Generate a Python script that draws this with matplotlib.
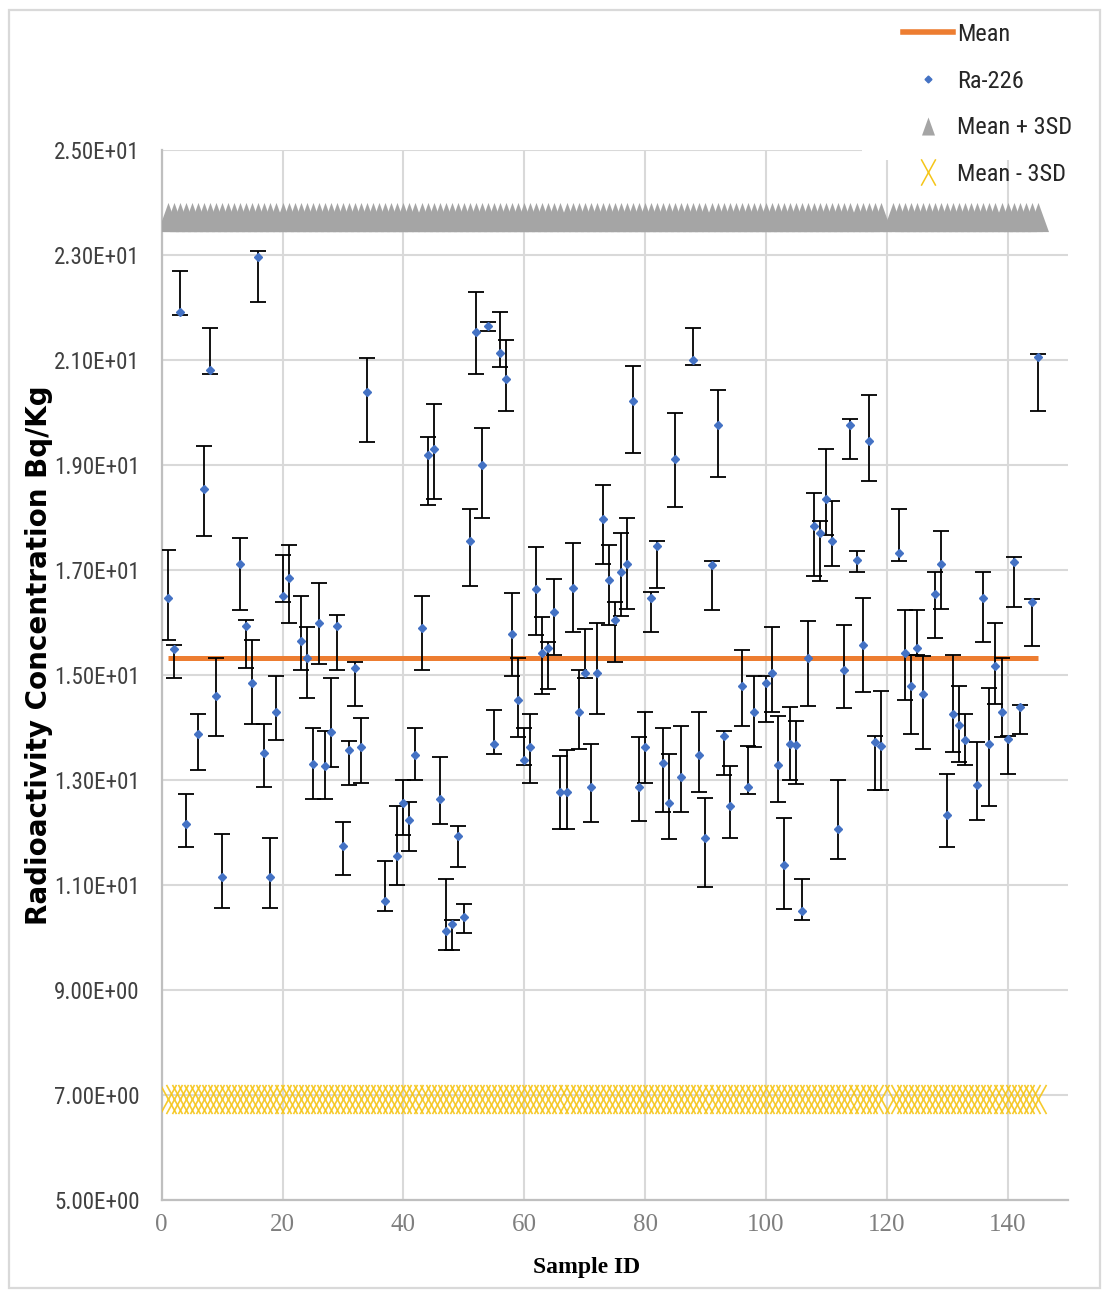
import numpy as np
import matplotlib
matplotlib.use("Agg")
import matplotlib.pyplot as plt
import matplotlib.font_manager as fm
from matplotlib.font_manager import FontProperties
from matplotlib.lines import Line2D
from matplotlib.path import Path
from matplotlib.markers import MarkerStyle
from matplotlib.patches import Rectangle

# ---------------- data ----------------
sample_id = [1, 2, 3, 4, 6, 7, 8, 9, 10, 13, 14, 15, 16, 17, 18, 19, 20, 21, 23, 24,
             25, 26, 27, 28, 29, 30, 31, 32, 33, 34, 37, 39, 40, 41, 42, 43, 44, 45, 46, 47,
             48, 49, 50, 51, 52, 53, 54, 55, 56, 57, 58, 59, 60, 61, 62, 63, 64, 65, 66, 67,
             68, 69, 70, 71, 72, 73, 74, 75, 76, 77, 78, 79, 80, 81, 82, 83, 84, 85, 86, 88,
             89, 90, 91, 92, 93, 94, 96, 97, 98, 100, 101, 102, 103, 104, 105, 106, 107, 108, 109, 110,
             111, 112, 113, 114, 115, 116, 117, 118, 119, 122, 123, 124, 125, 126, 128, 129, 130, 131, 132, 133,
             135, 136, 137, 138, 139, 140, 141, 142, 144, 145]
ra226 = [16.47, 15.49, 21.92, 12.17, 13.88, 18.55, 20.81, 14.60, 11.15, 17.11, 15.94, 14.84, 22.96, 13.51, 11.15, 14.30, 16.50, 16.85, 15.64, 15.32,
         13.31, 16.00, 13.27, 13.92, 15.94, 11.74, 13.58, 15.14, 13.62, 20.40, 10.70, 11.56, 12.57, 12.24, 13.47, 15.89, 19.20, 19.31, 12.63, 10.13,
         10.26, 11.94, 10.39, 17.56, 21.54, 19.00, 21.64, 13.68, 21.14, 20.63, 15.79, 14.53, 13.38, 13.62, 16.63, 15.41, 15.52, 16.20, 12.77, 12.77,
         16.66, 14.30, 15.03, 12.87, 15.03, 17.98, 16.81, 16.05, 16.97, 17.11, 20.22, 12.86, 13.62, 16.47, 17.45, 13.32, 12.56, 19.11, 13.05, 21.00,
         13.47, 11.90, 17.09, 19.77, 13.83, 12.51, 14.80, 12.86, 14.30, 14.84, 15.03, 13.28, 11.38, 13.69, 13.66, 10.50, 15.32, 17.83, 17.71, 18.36,
         17.56, 12.06, 15.09, 19.77, 17.20, 15.58, 19.45, 13.73, 13.65, 17.32, 15.41, 14.79, 15.52, 14.64, 16.54, 17.11, 12.33, 14.26, 14.05, 13.77,
         12.90, 16.47, 13.69, 15.17, 14.30, 13.79, 17.16, 14.39, 16.39, 21.05]
ra226_low = [15.66, 14.94, 21.85, 11.72, 13.20, 17.64, 20.74, 13.83, 10.57, 16.23, 15.13, 14.07, 22.11, 12.86, 10.57, 13.77, 16.39, 16.00, 15.09, 14.56,
             12.64, 15.21, 12.63, 13.24, 15.09, 11.20, 12.90, 14.41, 12.94, 19.43, 10.51, 11.00, 11.96, 11.64, 13.00, 15.09, 18.24, 18.36, 12.17, 9.76,
             9.76, 11.34, 10.09, 16.69, 20.73, 18.00, 21.55, 13.49, 20.87, 20.02, 14.98, 13.82, 13.28, 12.94, 15.77, 14.64, 14.73, 15.38, 12.06, 12.06,
             15.81, 13.60, 14.94, 12.20, 14.26, 17.11, 15.96, 15.24, 16.13, 16.26, 19.23, 12.22, 12.94, 15.82, 16.66, 12.40, 11.88, 18.20, 12.40, 20.90,
             12.77, 10.96, 16.23, 18.77, 13.09, 11.90, 14.03, 12.74, 13.62, 14.11, 14.30, 12.58, 10.54, 13.00, 12.92, 10.34, 14.41, 16.88, 16.80, 17.66,
             17.07, 11.49, 14.37, 19.11, 16.97, 14.67, 18.70, 12.81, 12.81, 17.17, 14.53, 13.88, 15.38, 13.60, 15.71, 16.26, 11.72, 13.54, 13.35, 13.28,
             12.24, 15.62, 12.51, 14.45, 13.82, 13.11, 16.30, 13.88, 15.55, 20.03]
ra226_high = [17.38, 15.58, 22.69, 12.74, 14.26, 19.37, 21.61, 15.32, 11.98, 17.60, 16.04, 15.66, 23.07, 14.07, 11.90, 14.98, 17.28, 17.47, 16.50, 15.92,
              13.99, 16.75, 13.94, 14.94, 16.15, 12.20, 13.75, 15.24, 14.19, 21.04, 11.45, 12.51, 13.00, 12.59, 13.99, 16.50, 19.54, 20.17, 13.43, 11.11,
              10.34, 12.13, 10.63, 18.16, 22.30, 19.71, 21.72, 14.33, 21.92, 21.38, 16.56, 15.32, 14.00, 14.26, 17.43, 16.11, 15.62, 16.83, 13.45, 13.58,
              17.51, 15.09, 15.88, 13.69, 16.00, 18.62, 17.47, 16.40, 17.71, 18.00, 20.89, 13.82, 14.30, 16.58, 17.56, 13.99, 13.49, 19.99, 14.03, 21.61,
              14.30, 12.66, 17.17, 20.43, 13.94, 13.26, 15.47, 13.64, 14.98, 14.98, 15.92, 14.22, 12.27, 14.40, 14.13, 11.11, 16.03, 18.47, 17.94, 19.31,
              18.32, 13.00, 15.96, 19.88, 17.37, 16.46, 20.33, 13.83, 14.70, 18.16, 16.23, 15.38, 16.23, 15.37, 16.96, 17.75, 13.11, 15.38, 14.79, 14.26,
              13.72, 16.96, 14.75, 16.00, 15.32, 13.83, 17.25, 14.43, 16.44, 21.11]

mean_value = 15.33
sd_value = 2.80
limit_ids = [i for i in range(1, 146) if i != 120]

x_ticks = [0, 20, 40, 60, 80, 100, 120, 140]
y_ticks = [5, 7, 9, 11, 13, 15, 17, 19, 21, 23, 25]
legend_labels = ["Mean", "Ra-226", "Mean + 3SD", "Mean - 3SD"]

# ---------------- fonts ----------------
names = {f.name for f in fm.fontManager.ttflist}
narrow_family, narrow_stretch = None, "normal"
for n in ["Liberation Sans Narrow", "Roboto Condensed", "Open Sans Condensed",
          "Arial Narrow", "DejaVu Sans Condensed"]:
    if n in names:
        narrow_family = n
        break
if narrow_family is None:
    cond = [f for f in fm.fontManager.ttflist
            if f.name == "DejaVu Sans" and "condensed" in str(f.stretch).lower()]
    if cond:
        narrow_family, narrow_stretch = "DejaVu Sans", "condensed"
    elif "Roboto" in names:
        narrow_family = "Roboto"
    else:
        narrow_family = "Liberation Sans"
serif = ["Liberation Serif", "DejaVu Serif"]

W, H = 1102, 1290
fig = plt.figure(figsize=(W / 100, H / 100), dpi=100)
fig.patch.set_facecolor("white")
renderer = fig.canvas.get_renderer()


def fit_size(txt, target_px, start=20.0, **kw):
    t = fig.text(0, 0, txt, fontsize=start, **kw)
    w = t.get_window_extent(renderer=renderer).width
    t.remove()
    return start * target_px / w


nkw = dict(family=narrow_family, fontstretch=narrow_stretch)
ytick_size = min(fit_size("7.00E+00", 86, **nkw), 21)
leg_size = min(fit_size("Mean + 3SD", 115, **nkw), 22)

ax = fig.add_axes([161.7 / W, (H - 1200) / H, (1068 - 161.7) / W, 1050 / H])

x = np.array(sample_id, dtype=float)
y = np.array(ra226)
lo = np.clip(y - np.array(ra226_low), 0, None)
hi = np.clip(np.array(ra226_high) - y, 0, None)

lim_x = np.array(limit_ids, dtype=float)
upper = np.full(len(lim_x), mean_value + 3 * sd_value)
lower = np.full(len(lim_x), mean_value - 3 * sd_value)

# mean line
ax.plot([1, 145], [mean_value, mean_value], color="#ED7D31", lw=3.6, zorder=2,
        solid_capstyle="butt")

# Ra-226 points with error bars
ax.errorbar(x, y, yerr=[lo, hi], fmt="D", ms=4.2, color="#4472C4", mec="#4472C4",
            ecolor="black", elinewidth=1.3, capsize=6, capthick=1.3, zorder=3)

# Mean + 3SD triangles
tri = MarkerStyle(Path([(0, 1), (-0.72, -1), (0.72, -1), (0, 1)],
                       [Path.MOVETO, Path.LINETO, Path.LINETO, Path.CLOSEPOLY]))
ax.plot(lim_x, upper, ls="none", marker=tri, ms=21, color="#A5A5A5", mec="#A5A5A5",
        mew=0, zorder=3)

# Mean - 3SD crosses
xm = MarkerStyle(Path([(-0.55, -1), (0.55, 1), (-0.55, 1), (0.55, -1)],
                      [Path.MOVETO, Path.LINETO, Path.MOVETO, Path.LINETO]))
ax.plot(lim_x, lower, ls="none", marker=xm, ms=21, color="#F5C518", mec="#F5C518",
        mew=1.2, alpha=0.9, zorder=3)

# axes styling
ax.set_xlim(0, 150)
ax.set_ylim(5, 25)
ax.set_xticks(x_ticks)
ax.set_yticks(y_ticks)
ax.set_yticklabels(["{:.2E}".format(v) for v in y_ticks], fontsize=ytick_size,
                   color="#404040", **nkw)
ax.set_xticklabels([str(v) for v in x_ticks], family=serif, fontsize=18,
                   color="#7F7F7F")
ax.tick_params(length=0)
ax.tick_params(axis="y", pad=16)
ax.tick_params(axis="x", pad=10)
ax.grid(True, color="#D9D9D9", lw=1.5)
ax.set_axisbelow(True)
for s in ["top", "right"]:
    ax.spines[s].set_visible(False)
for s in ["left", "bottom"]:
    ax.spines[s].set_color("#BFBFBF")
    ax.spines[s].set_linewidth(1.6)

# labels
fig.text(39 / W, 1 - 655 / H, "Radioactivity Concentration Bq/Kg", rotation=90,
         ha="center", va="center", fontsize=20, fontweight="bold",
         family=["DejaVu Sans"], color="black")
fig.text(587 / W, 1 - 1268 / H, "Sample ID", ha="center", va="center",
         fontsize=17, fontweight="bold", family=serif, color="black")

# white mask behind legend over the top gridline
fig.add_artist(Rectangle((862 / W, 1 - 160 / H), (1075 - 862) / W, 20 / H,
                         transform=fig.transFigure, facecolor="white",
                         edgecolor="none", zorder=1))

# legend
handles = [
    Line2D([], [], color="#ED7D31", lw=4),
    Line2D([], [], ls="none", marker="D", ms=3.5, color="#4472C4"),
    Line2D([], [], ls="none", marker=tri, ms=13, color="#A5A5A5", mew=0),
    Line2D([], [], ls="none", marker=xm, ms=19, color="#F5C518", mew=1.1),
]
leg_px = leg_size * 100 / 72
leg = fig.legend(handles, legend_labels, loc="upper left",
                 bbox_to_anchor=(903 / W, 1 - (34 - 0.45 * leg_px) / H),
                 bbox_transform=fig.transFigure, frameon=False,
                 prop=FontProperties(family=narrow_family, stretch=narrow_stretch,
                                     size=leg_size),
                 handlelength=50 / leg_px, handletextpad=4 / leg_px,
                 labelspacing=max(48.5 / leg_px - 1.02, 0.1),
                 borderpad=0.0, borderaxespad=0.0)
for t in leg.get_texts():
    t.set_color("#262626")

# outer chart border
fig.add_artist(Rectangle((9 / W, 2 / H), (1100 - 9) / W, (1280 - 2) / H,
                         transform=fig.transFigure, facecolor="none",
                         edgecolor="#D9D9D9", lw=1.6, zorder=10))

fig.savefig("out.png", dpi=100)
